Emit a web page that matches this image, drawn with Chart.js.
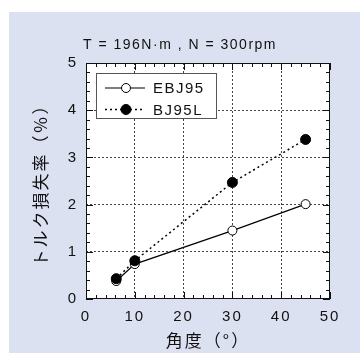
<!DOCTYPE html>
<html>
<head>
<meta charset="utf-8">
<script src="https://cdn.jsdelivr.net/npm/chart.js@4.4.0/dist/chart.umd.min.js"></script>
<style>
    html, body { margin: 0; padding: 0; background: #fff; }
</style>
</head>
<body>
<canvas id="losschart" width="360" height="357"></canvas>
<script>
// values
const angles = [6.2, 10, 30, 45];
const ebj95 = [0.38, 0.74, 1.45, 2.01];
const bj95l = [0.43, 0.81, 2.47, 3.38];
const seriesNames = ['EBJ95', 'BJ95L'];
const xTicks = [0, 10, 20, 30, 40, 50];
const yTicks = [0, 1, 2, 3, 4, 5];
const chartTitle = 'T = 196N·m , N = 300rpm';
const xTitle = '角度（°）';
const yTitle = 'トルク損失率（％）';

const FONT = "'Liberation Sans', Arial, sans-serif";
const JP = "'Noto Sans CJK JP', sans-serif";
const INK = '#111';

function isMajorY(v) {
    const r = Math.round(v);
    return Math.abs(v - r) < 1e-6 && yTicks.includes(r);
}

const pointsOf = (ys) => angles.map(function (a, i) { return { x: a, y: ys[i] }; });

const backdrop = {
    id: 'backdrop',
    beforeDraw(chart) {
        const { ctx, chartArea: a } = chart;
        ctx.save();
        ctx.fillStyle = '#fff';
        ctx.fillRect(0, 0, chart.width, chart.height);
        ctx.fillStyle = '#dce1f1';
        ctx.fillRect(9, 12, chart.width - 9, 341);
        ctx.fillStyle = '#fff';
        ctx.fillRect(a.left, a.top, a.right - a.left, a.bottom - a.top);
        ctx.restore();
        ctx.letterSpacing = '2px';
    },
    afterDatasetsDraw(chart) {
        const { ctx, chartArea: a } = chart;
        const xs = chart.scales.x, ys = chart.scales.y;
        ctx.save();
        ctx.letterSpacing = '0px';
        ctx.strokeStyle = '#111';
        ctx.lineWidth = 1;
        ctx.beginPath();
        xs.ticks.forEach(function (t) {
            const px = Math.round(xs.getPixelForValue(t.value)) + 0.5;
            const len = xTicks.includes(t.value) ? 7 : 4;
            ctx.moveTo(px, a.bottom); ctx.lineTo(px, a.bottom - len);
            ctx.moveTo(px, a.top); ctx.lineTo(px, a.top + len);
        });
        ys.ticks.forEach(function (t) {
            const py = Math.round(ys.getPixelForValue(t.value)) + 0.5;
            const len = isMajorY(t.value) ? 7 : 4;
            ctx.moveTo(a.left, py); ctx.lineTo(a.left + len, py);
            ctx.moveTo(a.right, py); ctx.lineTo(a.right - len, py);
        });
        ctx.stroke();
        ctx.strokeRect(a.left + 0.5, a.top + 0.5, a.right - a.left - 1, a.bottom - a.top - 1);
        ctx.restore();
    },
    afterDraw(chart) {
        const { ctx, chartArea: a } = chart;
        ctx.save();
        // title
        ctx.letterSpacing = '1.5px';
        ctx.fillStyle = INK;
        ctx.font = '14px ' + FONT;
        ctx.textAlign = 'center';
        ctx.textBaseline = 'middle';
        ctx.fillText(chartTitle, chart.width / 2, 45);

        // legend box inside the plot
        const lx = a.left + 10, ly = a.top + 10;
        ctx.fillStyle = '#fff';
        ctx.fillRect(lx, ly, 121, 46);
        ctx.strokeStyle = '#555';
        ctx.lineWidth = 1;
        ctx.strokeRect(lx + 0.5, ly + 0.5, 120, 45);
        chart.data.datasets.forEach(function (ds, i) {
            const y = ly + 15 + i * 21.5;
            ctx.strokeStyle = ds.borderColor;
            ctx.lineWidth = ds.borderWidth;
            ctx.setLineDash(ds.borderDash || []);
            ctx.beginPath();
            ctx.moveTo(lx + 9, y);
            ctx.lineTo(lx + 49, y);
            ctx.stroke();
            ctx.setLineDash([]);
            ctx.beginPath();
            ctx.arc(lx + 30, y, ds.pointRadius, 0, Math.PI * 2);
            ctx.fillStyle = ds.pointBackgroundColor;
            ctx.fill();
            ctx.lineWidth = 1;
            ctx.strokeStyle = '#000';
            ctx.stroke();
            ctx.fillStyle = INK;
            ctx.font = '15px ' + FONT;
            ctx.textAlign = 'left';
            ctx.letterSpacing = '1.5px';
            ctx.fillText(ds.label, lx + 57, y + 1);
        });
        ctx.restore();
    }
};

new Chart(document.getElementById('losschart'), {
    type: 'scatter',
    data: {
        datasets: [{
            label: seriesNames[0],
            data: pointsOf(ebj95),
            showLine: true,
            borderColor: '#000',
            borderWidth: 1.2,
            pointRadius: 4.5,
            pointBackgroundColor: '#fff',
            pointBorderColor: '#000',
            pointBorderWidth: 1,
            order: 1
        },
        {
            label: seriesNames[1],
            data: pointsOf(bj95l),
            showLine: true,
            borderColor: '#000',
            borderWidth: 1.5,
            borderDash: [2, 3],
            pointRadius: 5,
            pointBackgroundColor: '#000',
            pointBorderColor: '#000',
            pointBorderWidth: 1,
            order: 0
        }]
    },
    options: {
        responsive: false,
        animation: false,
        layout: { padding: { top: 63, right: 30, left: 0, bottom: 0 } },
        plugins: {
            legend: { display: false },
            tooltip: { enabled: false }
        },
        scales: {
            x: {
                type: 'linear',
                min: 0,
                max: 50,
                afterFit: function (s) { s.height = 58; },
                ticks: {
                    stepSize: 2,
                    autoSkip: false,
                    maxRotation: 0,
                    padding: 9,
                    color: INK,
                    font: { family: FONT, size: 15 },
                    callback: function (v) { return xTicks.includes(v) ? String(v) : ''; }
                },
                grid: {
                    drawTicks: false,
                    lineWidth: 1,
                    color: function (c) {
                        const v = c.tick ? c.tick.value : null;
                        return (v !== null && xTicks.includes(v) && v !== 0 && v !== 50) ? '#444' : 'transparent';
                    }
                },
                border: { display: false, dash: [2, 2] },
                title: {
                    display: true,
                    text: xTitle,
                    color: INK,
                    font: { family: JP, size: 17 },
                    padding: { top: 0, bottom: 6 }
                }
            },
            y: {
                min: 0,
                max: 5,
                afterFit: function (s) { s.width = 86; },
                ticks: {
                    stepSize: 0.2,
                    autoSkip: false,
                    padding: 8,
                    color: INK,
                    font: { family: FONT, size: 15 },
                    callback: function (v) { return isMajorY(v) ? String(Math.round(v)) : ''; }
                },
                grid: {
                    drawTicks: false,
                    lineWidth: 1,
                    color: function (c) {
                        const v = c.tick ? c.tick.value : null;
                        return (v !== null && isMajorY(v) && Math.round(v) !== 0 && Math.round(v) !== 5) ? '#444' : 'transparent';
                    }
                },
                border: { display: false, dash: [2, 2] },
                title: {
                    display: true,
                    text: yTitle,
                    color: INK,
                    font: { family: JP, size: 17 },
                    padding: { top: 30, bottom: 0 }
                }
            }
        }
    },
    plugins: [backdrop]
});
</script>
</body>
</html>
